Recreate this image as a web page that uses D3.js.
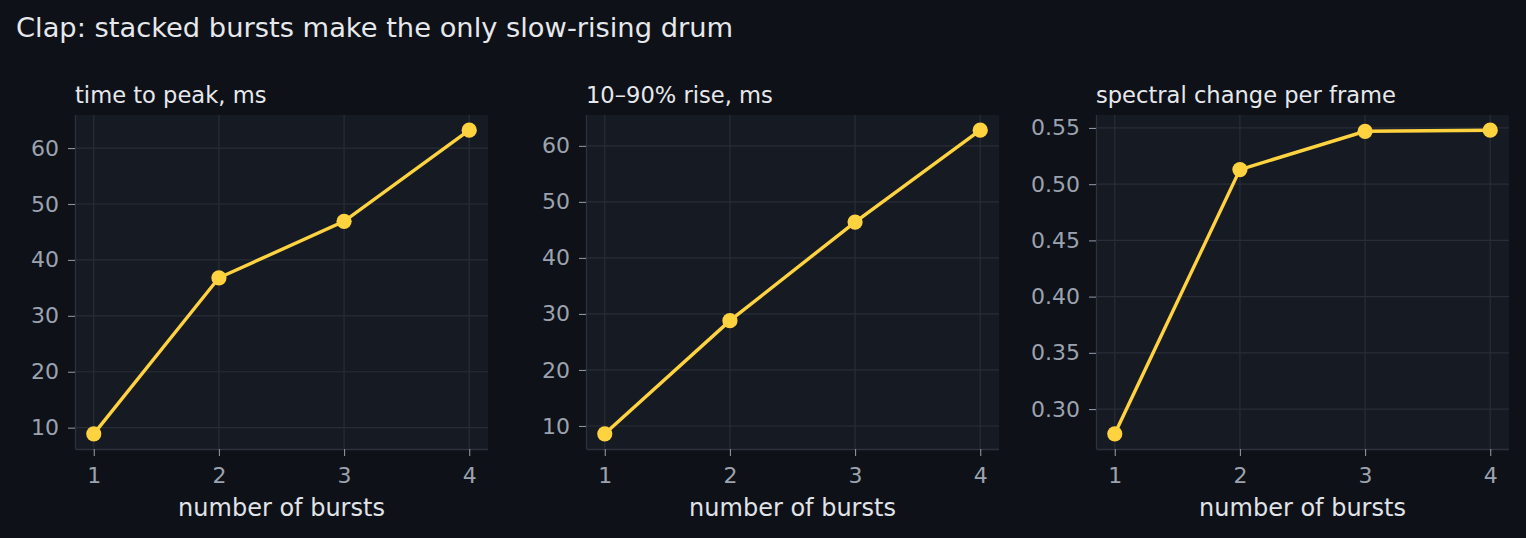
<!DOCTYPE html>
<html>
<head>
<meta charset="utf-8">
<script src="https://cdn.jsdelivr.net/npm/d3@7"></script>
<style>
  body { margin: 0; background: #0e1117; }
  svg { display: block; }
  text { font-family: "DejaVu Sans", sans-serif; }
</style>
</head>
<body>
<div id="chart"></div>
<script>
var bursts = [1, 2, 3, 4];
var timeToPeak = [8.9, 36.8, 46.9, 63.2];
var riseTime = [8.6, 28.8, 46.4, 62.8];
var spectralChange = [0.278, 0.513, 0.547, 0.548];
var panelTitles = ["time to peak, ms", "10\u201390% rise, ms", "spectral change per frame"];
var yTicks = [[10, 20, 30, 40, 50, 60], [10, 20, 30, 40, 50, 60], [0.30, 0.35, 0.40, 0.45, 0.50, 0.55]];
var yFormats = [d3.format("d"), d3.format("d"), d3.format(".2f")];

var width = 1526, height = 538;
var panelLeft = [75, 586, 1096],
    panelWidth = 413,
    plotTop = 115, plotBottom = 449;

var svg = d3.select("#chart")
.append("svg")
.attr("width", width)
.attr("height", height);

svg.append("rect")
.attr("width", width)
.attr("height", height)
.attr("fill", "#0e1117");

svg.append("text")
.attr("x", 16)
.attr("y", 37)
.attr("fill", "#e6e8ec")
.style("font-size", "27.3px")
.text("Clap: stacked bursts make the only slow-rising drum");

// pad the domain 5% each side, like the original
function padded(ext) {
    var p = (ext[1] - ext[0]) * 0.05;
    return [ext[0] - p, ext[1] + p];
}

const panel = (values, i) => {
    var g = svg.append("g")
    .attr("transform", "translate(" + panelLeft[i] + ",0)");

    var x = d3.scaleLinear()
    .domain(padded([1, 4]))
    .range([0, panelWidth]);

    var y = d3.scaleLinear()
    .domain(padded(d3.extent(values)))
    .range([plotBottom, plotTop]);

    g.append("rect")
    .attr("x", 0)
    .attr("y", plotTop)
    .attr("width", panelWidth)
    .attr("height", plotBottom - plotTop)
    .attr("fill", "#161a22");

    // grid
    g.append("g")
    .selectAll("line")
    .data(yTicks[i])
    .enter()
    .append("line")
    .attr("x1", 0)
    .attr("x2", panelWidth)
    .attr("y1", d => y(d))
    .attr("y2", d => y(d))
    .attr("stroke", "#282d38")
    .attr("stroke-width", 1.2);

    g.append("g")
    .selectAll("line")
    .data(bursts)
    .enter()
    .append("line")
    .attr("x1", d => x(d))
    .attr("x2", d => x(d))
    .attr("y1", plotTop)
    .attr("y2", plotBottom)
    .attr("stroke", "#282d38")
    .attr("stroke-width", 1.2);

    var xAxis = g.append("g")
    .attr("transform", "translate(0," + plotBottom + ")")
    .call(d3.axisBottom(x).tickValues(bursts).tickFormat(d3.format("d")).tickSize(7).tickPadding(11));

    var yAxis = g.append("g")
    .call(d3.axisLeft(y).tickValues(yTicks[i]).tickFormat(yFormats[i]).tickSize(7).tickPadding(9));

    [xAxis, yAxis].forEach(a => {
        a.select(".domain").attr("stroke", "#2c313c").attr("stroke-width", 1.3);
        a.selectAll(".tick line").attr("stroke", "#8b92a0").attr("stroke-width", 1.1);
        a.selectAll(".tick text")
        .attr("fill", "#9ca3b0")
        .style("font-size", "22px")
        .style("font-family", "DejaVu Sans");
    });
    // matplotlib-like spine without the end caps
    xAxis.select(".domain").attr("d", "M0.5,0.5H" + panelWidth);
    yAxis.select(".domain").attr("d", "M0.5," + plotBottom + "V" + plotTop);

    g.append("text")
    .attr("x", 0)
    .attr("y", 103)
    .attr("fill", "#e6e8ec")
    .style("font-size", "22.6px")
    .text(panelTitles[i]);

    g.append("text")
    .attr("x", panelWidth / 2)
    .attr("y", 516)
    .attr("text-anchor", "middle")
    .attr("fill", "#e0e3e8")
    .style("font-size", "24px")
    .text("number of bursts");

    var line = d3.line()
    .x((d, j) => x(bursts[j]))
    .y(d => y(d));

    g.append("path")
    .datum(values)
    .attr("d", line)
    .attr("fill", "none")
    .attr("stroke", "#ffd23f")
    .attr("stroke-width", 3.4);

    g.append("g")
    .selectAll("circle")
    .data(values)
    .enter()
    .append("circle")
    .attr("cx", (d, j) => x(bursts[j]))
    .attr("cy", d => y(d))
    .attr("r", 7.6)
    .attr("fill", "#ffd23f");
};

[timeToPeak, riseTime, spectralChange].forEach(panel);
</script>
</body>
</html>
